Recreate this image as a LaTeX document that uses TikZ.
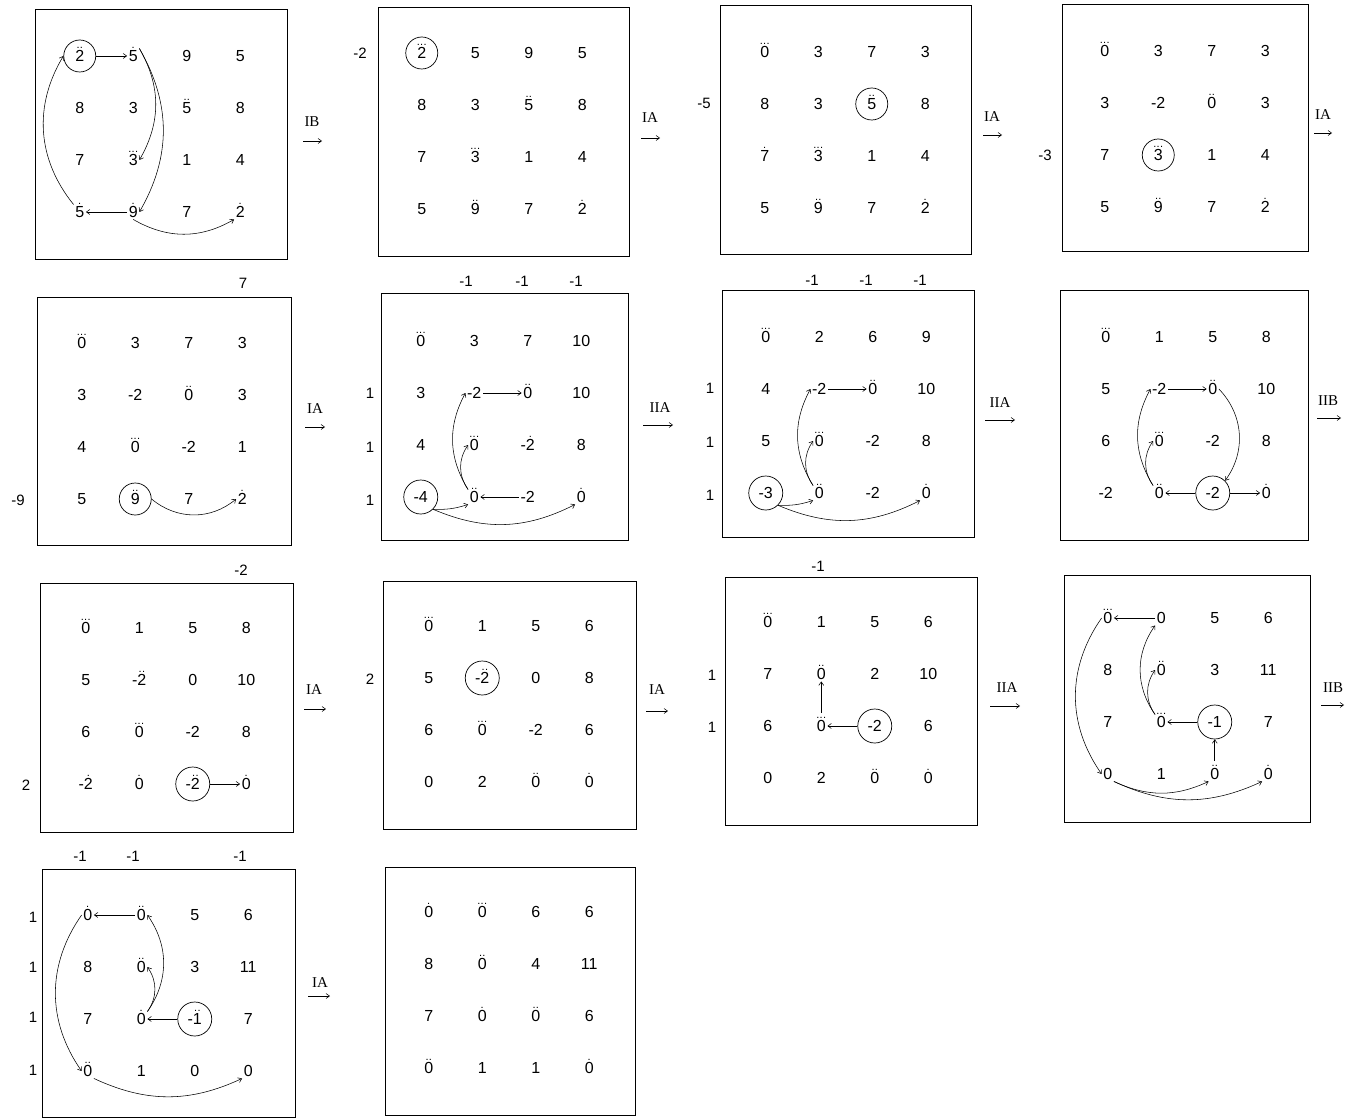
\documentclass[tikz,border=0pt]{standalone}
\usepackage{fontspec}
\setmainfont{Liberation Sans}
\newfontfamily\stepfont{Liberation Serif}
\usetikzlibrary{arrows.meta}
\newcommand\ovdots[2]{\leavevmode\setbox0\hbox{#2}\setbox2\hbox{\fontsize{11}{11}\selectfont#1}\hbox to\wd0{\hss\vbox{\offinterlineskip\hbox to\wd0{\hss\box2\hss}\kern2.2pt\box0}\hss}}
\newcommand\dotA[1]{\ovdots{.}{#1}}
\newcommand\dotB[1]{\ovdots{.\kern0.3pt.}{#1}}
\newcommand\dotC[1]{\ovdots{.\kern0.3pt.\kern0.3pt.}{#1}}
\newcommand\cellrow[6]{%
  \node[cell] (#1-#2-1) at ([shift={(-80.25,{(#2-2.5)*52})}]#1) {#3};
  \node[cell] (#1-#2-2) at ([shift={(-26.75,{(#2-2.5)*52})}]#1) {#4};
  \node[cell] (#1-#2-3) at ([shift={(26.75,{(#2-2.5)*52})}]#1) {#5};
  \node[cell] (#1-#2-4) at ([shift={(80.25,{(#2-2.5)*52})}]#1) {#6};
}
\tikzset{
  frame/.style={draw, line width=1pt, inner sep=0pt},
  cell/.style={font=\fontsize{16}{16}\selectfont, inner sep=1.5pt, text height=11.5pt, text depth=0pt},
  circ/.style={draw, circle, minimum size=34pt, inner sep=0pt, line width=0.7pt},
  lab/.style={font=\fontsize{15}{15}\selectfont, inner sep=1pt},
  steplab/.style={font=\stepfont\fontsize{15}{15}\selectfont, inner sep=1pt},
  arr/.style={-{Straight Barb[length=3.5pt,width=5pt]}, line width=0.55pt},
}
\begin{document}
\begin{tikzpicture}[x=1pt,y=-1pt]
\useasboundingbox[fill=white] (0,0) rectangle (1354,1118);

% ---------- frames ----------
\node[frame, minimum width=252, minimum height=249] (F1) at (161,134.5) {};
\node[frame, minimum width=251, minimum height=248] (F2) at (503.5,132) {};
\node[frame, minimum width=251, minimum height=248] (F3) at (845.5,130) {};
\node[frame, minimum width=246, minimum height=246] (F4) at (1185,128) {};
\node[frame, minimum width=254, minimum height=248] (F5) at (164,421) {};
\node[frame, minimum width=247, minimum height=247] (F6) at (504.5,416.5) {};
\node[frame, minimum width=252, minimum height=247] (F7) at (848,413.5) {};
\node[frame, minimum width=248, minimum height=250] (F8) at (1184,415) {};
\node[frame, minimum width=253, minimum height=249] (F9) at (166.5,707.5) {};
\node[frame, minimum width=253, minimum height=248] (F10) at (509.5,705) {};
\node[frame, minimum width=252, minimum height=248] (F11) at (851,701) {};
\node[frame, minimum width=246, minimum height=247] (F12) at (1187,698.5) {};
\node[frame, minimum width=253, minimum height=248] (F13) at (168.5,993) {};
\node[frame, minimum width=250, minimum height=248] (F14) at (510,991) {};

% ---------- grid centres ----------
\coordinate (m1) at (160,134);
\coordinate (m2) at (502,131);
\coordinate (m3) at (845,130);
\coordinate (m4) at (1185,129);
\coordinate (m5) at (162,421);
\coordinate (m6) at (501,419);
\coordinate (m7) at (846,415);
\coordinate (m8) at (1186,415);
\coordinate (m9) at (166,706);
\coordinate (m10) at (509,704);
\coordinate (m11) at (848,700);
\coordinate (m12) at (1188,696);
\coordinate (m13) at (168,993);
\coordinate (m14) at (509,990);

% ---------- box 1 ----------
\cellrow{m1}{1}{\dotB{2}}{\dotA{5}}{9}{5}
\cellrow{m1}{2}{8}{3}{\dotB{5}}{8}
\cellrow{m1}{3}{7}{\dotC{3}}{1}{4}
\cellrow{m1}{4}{\dotA{5}}{\dotA{9}}{7}{\dotA{2}}
\node[circ, minimum size=32pt] (m1c) at (m1-1-1) {};
\draw[arr] (m1c) -- (m1-1-2);
\draw[arr] (m1-1-2.north east) to[bend left=30] (m1-3-2.east);
\draw[arr] (m1-1-2.north east) to[bend left=30] (m1-4-2.east);
\draw[arr] (m1-4-2) -- (m1-4-1);
\draw[arr] (m1-4-1.north west) to[bend left=35] (m1c.west);
\draw[arr] (m1-4-2.south) to[bend right=30] (m1-4-4.south west);

% ---------- box 2 ----------
\cellrow{m2}{1}{\dotC{2}}{5}{9}{5}
\cellrow{m2}{2}{8}{3}{\dotB{5}}{8}
\cellrow{m2}{3}{7}{\dotC{3}}{1}{4}
\cellrow{m2}{4}{5}{\dotB{9}}{7}{\dotA{2}}
\node[circ, minimum size=32pt] (m2c) at (m2-1-1) {};

% ---------- box 3 ----------
\cellrow{m3}{1}{\dotC{0}}{3}{7}{3}
\cellrow{m3}{2}{8}{3}{\dotB{5}}{8}
\cellrow{m3}{3}{\dotA{7}}{\dotC{3}}{1}{4}
\cellrow{m3}{4}{5}{\dotB{9}}{7}{\dotA{2}}
\node[circ, minimum size=32pt] (m3c) at (m3-2-3) {};

% ---------- box 4 ----------
\cellrow{m4}{1}{\dotC{0}}{3}{7}{3}
\cellrow{m4}{2}{3}{-2}{\dotB{0}}{3}
\cellrow{m4}{3}{7}{\dotC{3}}{1}{4}
\cellrow{m4}{4}{5}{\dotB{9}}{7}{\dotA{2}}
\node[circ, minimum size=32pt] (m4c) at (m4-3-2) {};

% ---------- box 5 ----------
\cellrow{m5}{1}{\dotC{0}}{3}{7}{3}
\cellrow{m5}{2}{3}{-2}{\dotB{0}}{3}
\cellrow{m5}{3}{4}{\dotC{0}}{-2}{1}
\cellrow{m5}{4}{5}{\dotB{9}}{7}{\dotA{2}}
\node[circ, minimum size=32pt] (m5c) at (m5-4-2) {};
\draw[arr] (m5c.east) to[bend right=40] (m5-4-4.west);

% ---------- box 6 ----------
\cellrow{m6}{1}{\dotC{0}}{3}{7}{10}
\cellrow{m6}{2}{3}{-2}{\dotB{0}}{10}
\cellrow{m6}{3}{4}{\dotC{0}}{-\dotA{2}}{8}
\cellrow{m6}{4}{-4}{\dotB{0}}{-2}{\dotA{0}}
\node[circ] (m6c) at (m6-4-1) {};
\draw[arr] (m6-2-2) -- (m6-2-3);
\draw[arr] (m6-4-3) -- (m6-4-2);
\draw[arr] (m6-4-2.north west) to[bend left=30] (m6-2-2.west);
\draw[arr] (m6-4-2.north west) to[bend left=35] (m6-3-2.west);
\draw[arr] (m6c.south east) to[bend right=10] (m6-4-2.south west);
\draw[arr] (m6c.south east) to[bend right=25] (m6-4-4.south west);

% ---------- box 7 ----------
\cellrow{m7}{1}{\dotC{0}}{2}{6}{9}
\cellrow{m7}{2}{4}{-2}{\dotB{0}}{10}
\cellrow{m7}{3}{5}{\dotC{0}}{-2}{8}
\cellrow{m7}{4}{-3}{\dotB{0}}{-2}{\dotA{0}}
\node[circ] (m7c) at (m7-4-1) {};
\draw[arr] (m7-2-2) -- (m7-2-3);
\draw[arr] (m7-4-2.north west) to[bend left=30] (m7-2-2.west);
\draw[arr] (m7-4-2.north west) to[bend left=35] (m7-3-2.west);
\draw[arr] (m7c.south east) to[bend right=10] (m7-4-2.south west);
\draw[arr] (m7c.south east) to[bend right=25] (m7-4-4.south west);

% ---------- box 8 ----------
\cellrow{m8}{1}{\dotC{0}}{1}{5}{8}
\cellrow{m8}{2}{5}{-2}{\dotB{0}}{10}
\cellrow{m8}{3}{6}{\dotC{0}}{-2}{8}
\cellrow{m8}{4}{-2}{\dotB{0}}{-2}{\dotA{0}}
\node[circ] (m8c) at (m8-4-3) {};
\draw[arr] (m8-2-2) -- (m8-2-3);
\draw[arr] (m8-2-3.east) to[bend left=40] (m8c.north east);
\draw[arr] (m8c) -- (m8-4-4);
\draw[arr] (m8c) -- (m8-4-2);
\draw[arr] (m8-4-2.north west) to[bend left=30] (m8-2-2.west);
\draw[arr] (m8-4-2.north west) to[bend left=35] (m8-3-2.west);

% ---------- box 9 ----------
\cellrow{m9}{1}{\dotC{0}}{1}{5}{8}
\cellrow{m9}{2}{5}{-\dotB{2}}{0}{10}
\cellrow{m9}{3}{6}{\dotC{0}}{-2}{8}
\cellrow{m9}{4}{-\dotA{2}}{\dotA{0}}{-\dotB{2}}{\dotA{0}}
\node[circ] (m9c) at (m9-4-3) {};
\draw[arr] (m9c) -- (m9-4-4);

% ---------- box 10 ----------
\cellrow{m10}{1}{\dotC{0}}{1}{5}{6}
\cellrow{m10}{2}{5}{-\dotB{2}}{0}{8}
\cellrow{m10}{3}{6}{\dotC{0}}{-2}{6}
\cellrow{m10}{4}{0}{2}{\dotB{0}}{\dotA{0}}
\node[circ] (m10c) at (m10-2-2) {};

% ---------- box 11 ----------
\cellrow{m11}{1}{\dotC{0}}{1}{5}{6}
\cellrow{m11}{2}{7}{\dotB{0}}{2}{10}
\cellrow{m11}{3}{6}{\dotC{0}}{-2}{6}
\cellrow{m11}{4}{0}{2}{\dotB{0}}{\dotA{0}}
\node[circ] (m11c) at (m11-3-3) {};
\draw[arr] (m11c) -- (m11-3-2);
\draw[arr, shorten <=6pt] (m11-3-2.north) -- (m11-2-2.south);

% ---------- box 12 ----------
\cellrow{m12}{1}{\dotC{0}}{0}{5}{6}
\cellrow{m12}{2}{8}{\dotB{0}}{3}{11}
\cellrow{m12}{3}{7}{\dotC{0}}{-1}{7}
\cellrow{m12}{4}{0}{1}{\dotB{0}}{\dotA{0}}
\node[circ] (m12c) at (m12-3-3) {};
\draw[arr] (m12-1-2) -- (m12-1-1);
\draw[arr] (m12c) -- (m12-3-2);
\draw[arr, shorten <=6pt] (m12-4-3.north) -- (m12c.south);
\draw[arr] (m12-3-2.north west) to[bend left=35] (m12-1-2.south west);
\draw[arr] (m12-3-2.north west) to[bend left=35] (m12-2-2.west);
\draw[arr] (m12-1-1.west) to[bend right=35] (m12-4-1.west);
\draw[arr] (m12-4-1.south east) to[bend right=25] (m12-4-3.south west);
\draw[arr] (m12-4-1.south east) to[bend right=25] (m12-4-4.south west);

% ---------- box 13 ----------
\cellrow{m13}{1}{\dotA{0}}{\dotB{0}}{5}{6}
\cellrow{m13}{2}{8}{\dotB{0}}{3}{11}
\cellrow{m13}{3}{7}{\dotA{0}}{-\dotB{1}}{7}
\cellrow{m13}{4}{\dotB{0}}{1}{0}{0}
\node[circ] (m13c) at (m13-3-3) {};
\draw[arr] (m13-1-2) -- (m13-1-1);
\draw[arr] (m13c) -- (m13-3-2);
\draw[arr] (m13-3-2.north east) to[bend right=35] (m13-2-2.east);
\draw[arr] (m13-3-2.north east) to[bend right=35] (m13-1-2.east);
\draw[arr] (m13-1-1.west) to[bend right=35] (m13-4-1.west);
\draw[arr] (m13-4-1.south east) to[bend right=25] (m13-4-4.south west);

% ---------- box 14 ----------
\cellrow{m14}{1}{\dotA{0}}{\dotC{0}}{6}{6}
\cellrow{m14}{2}{8}{\dotB{0}}{4}{11}
\cellrow{m14}{3}{7}{\dotA{0}}{\dotB{0}}{6}
\cellrow{m14}{4}{\dotB{0}}{1}{1}{\dotA{0}}

% ---------- side labels ----------
\node[lab] (L2) at (360,53) {-2};
\node[lab] (L3) at (704,103) {-5};
\node[lab] (L4) at (1045,155) {-3};
\node[lab] (L5a) at (243,283) {7};
\node[lab] (L5b) at (18,500) {-9};
\node[lab] (L6a) at (466,281) {-1};
\node[lab] (L6b) at (522,281) {-1};
\node[lab] (L6c) at (576,281) {-1};
\node[lab] (L6d) at (370,393) {1};
\node[lab] (L6e) at (370,447) {1};
\node[lab] (L6f) at (370,500) {1};
\node[lab] (L7a) at (812,280) {-1};
\node[lab] (L7b) at (866,280) {-1};
\node[lab] (L7c) at (920,280) {-1};
\node[lab] (L7d) at (710,388) {1};
\node[lab] (L7e) at (710,442) {1};
\node[lab] (L7f) at (710,495) {1};
\node[lab] (L9a) at (241,570) {-2};
\node[lab] (L9b) at (26,785) {2};
\node[lab] (L10) at (370,679) {2};
\node[lab] (L11a) at (818,566) {-1};
\node[lab] (L11b) at (712,675) {1};
\node[lab] (L11c) at (712,727) {1};
\node[lab] (L13a) at (80,856) {-1};
\node[lab] (L13b) at (133,856) {-1};
\node[lab] (L13c) at (240,856) {-1};
\node[lab] (L13d) at (33,917) {1};
\node[lab] (L13e) at (33,967) {1};
\node[lab] (L13f) at (33,1017) {1};
\node[lab] (L13g) at (33,1070) {1};

% ---------- step labels ----------
\node[steplab] (S1) at (312,122) {IB};
\coordinate (S1a) at (303,141); \coordinate (S1b) at (322,141);
\draw[arr] (S1a) -- (S1b);
\node[steplab] (S2) at (650,118) {IA};
\coordinate (S2a) at (641,138); \coordinate (S2b) at (660,138);
\draw[arr] (S2a) -- (S2b);
\node[steplab] (S3) at (992,117) {IA};
\coordinate (S3a) at (983,135); \coordinate (S3b) at (1002,135);
\draw[arr] (S3a) -- (S3b);
\node[steplab] (S4) at (1323,115) {IA};
\coordinate (S4a) at (1314,133); \coordinate (S4b) at (1332,133);
\draw[arr] (S4a) -- (S4b);
\node[steplab] (S5) at (315,409) {IA};
\coordinate (S5a) at (305,427); \coordinate (S5b) at (325,427);
\draw[arr] (S5a) -- (S5b);
\node[steplab] (S6) at (660,408) {IIA};
\coordinate (S6a) at (643,425); \coordinate (S6b) at (673,425);
\draw[arr] (S6a) -- (S6b);
\node[steplab] (S7) at (1000,403) {IIA};
\coordinate (S7a) at (985,420); \coordinate (S7b) at (1015,420);
\draw[arr] (S7a) -- (S7b);
\node[steplab] (S8) at (1328,401) {IIB};
\coordinate (S8a) at (1317,418); \coordinate (S8b) at (1341,418);
\draw[arr] (S8a) -- (S8b);
\node[steplab] (S9) at (314,690) {IA};
\coordinate (S9a) at (304,709); \coordinate (S9b) at (326,709);
\draw[arr] (S9a) -- (S9b);
\node[steplab] (S10) at (657,690) {IA};
\coordinate (S10a) at (646,711); \coordinate (S10b) at (668,711);
\draw[arr] (S10a) -- (S10b);
\node[steplab] (S11) at (1007,688) {IIA};
\coordinate (S11a) at (990,706); \coordinate (S11b) at (1020,706);
\draw[arr] (S11a) -- (S11b);
\node[steplab] (S12) at (1333,688) {IIB};
\coordinate (S12a) at (1321,705); \coordinate (S12b) at (1344,705);
\draw[arr] (S12a) -- (S12b);
\node[steplab] (S13) at (320,983) {IA};
\coordinate (S13a) at (308,996); \coordinate (S13b) at (330,996);
\draw[arr] (S13a) -- (S13b);
\end{tikzpicture}
\end{document}
